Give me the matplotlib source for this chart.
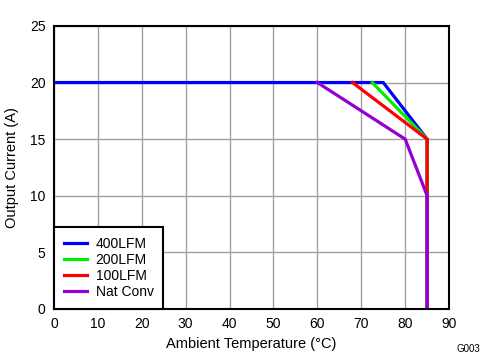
import matplotlib
matplotlib.use("Agg")
import matplotlib.pyplot as plt

x400 = [0, 75, 85, 85]
y400 = [20, 20, 15, 0]
x200 = [72.5, 85, 85]
y200 = [20, 15, 0]
x100 = [68, 85, 85]
y100 = [20, 15, 0]
xnat = [60, 80, 85, 85]
ynat = [20, 15, 10, 0]

labels = ["400LFM", "200LFM", "100LFM", "Nat Conv"]
colors = ["#0000ff", "#00ee00", "#ff0000", "#9400d3"]

plt.rcParams['font.family'] = ['Liberation Sans', 'DejaVu Sans']
fig = plt.figure(figsize=(4.99, 3.6), dpi=100)
ax = fig.add_axes([0.108, 0.1417, 0.792, 0.7863])

for xs, ys, lab, c in zip([x400, x200, x100, xnat], [y400, y200, y100, ynat], labels, colors):
    ax.plot(xs, ys, color=c, lw=2.3, label=lab, solid_joinstyle='miter')

ax.set_xlim(0, 90)
ax.set_ylim(0, 25)
ax.set_xticks(range(0, 91, 10))
ax.set_yticks(range(0, 26, 5))
ax.grid(True, color='#a0a0a0', lw=1)
ax.set_axisbelow(True)
for s in ax.spines.values():
    s.set_linewidth(1.5)
    s.set_color('black')
ax.tick_params(length=0, labelsize=10, pad=6)
ax.set_xlabel("Ambient Temperature (\u00b0C)", fontsize=10.5, labelpad=4)
ax.set_ylabel("Output Current (A)", fontsize=10.5, labelpad=8)

leg = ax.legend(loc='lower left', fontsize=10, fancybox=False, framealpha=1,
                edgecolor='black', borderaxespad=0, handlelength=1.7,
                labelspacing=0.15, borderpad=0.7, handletextpad=0.6)
leg.get_frame().set_linewidth(1.5)

fig.text(0.962, 0.03, "G003", fontsize=7, ha='right', va='center')
fig.savefig("out.png", dpi=100)
